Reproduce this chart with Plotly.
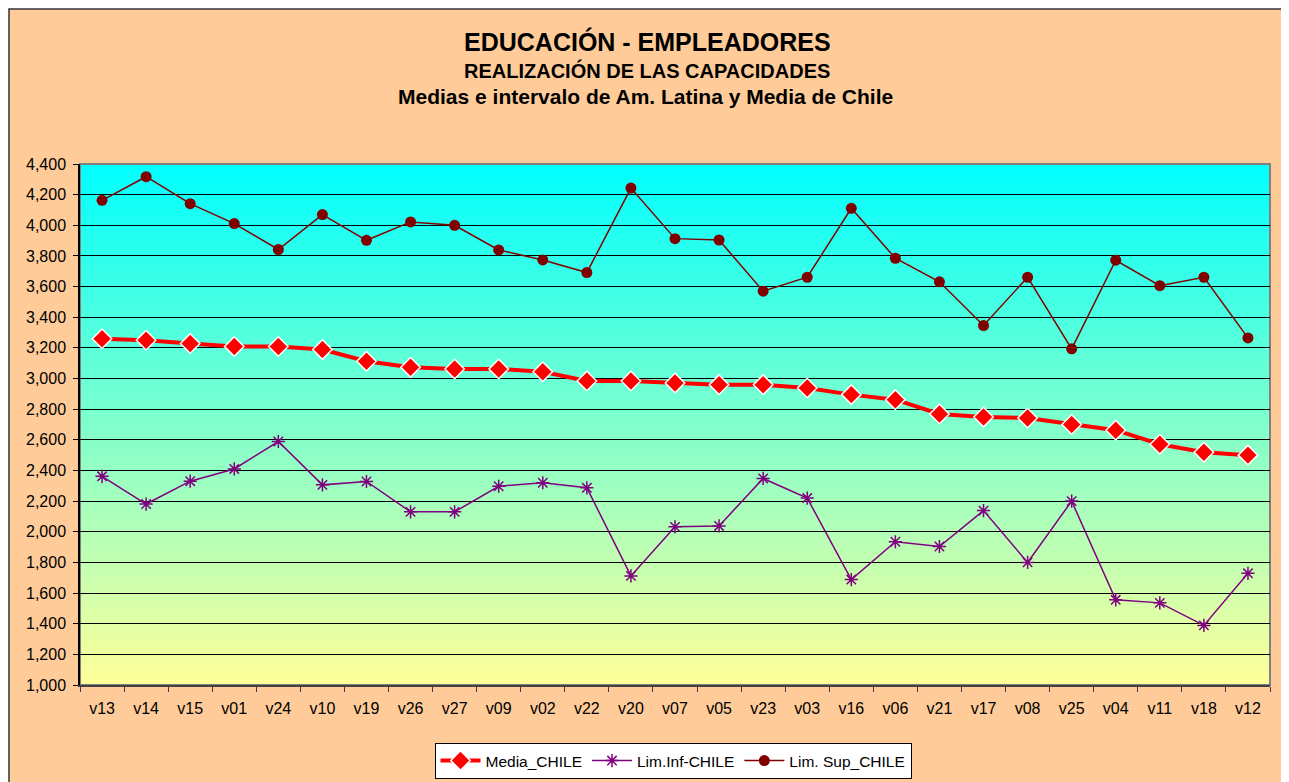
import plotly.graph_objects as go

categories = ["v13", "v14", "v15", "v01", "v24", "v10", "v19", "v26", "v27", "v09",
              "v02", "v22", "v20", "v07", "v05", "v23", "v03", "v16", "v06", "v21",
              "v17", "v08", "v25", "v04", "v11", "v18", "v12"]

media_chile = [3.260, 3.250, 3.229, 3.209, 3.209, 3.189, 3.113, 3.073, 3.062, 3.062,
               3.044, 2.984, 2.984, 2.971, 2.960, 2.960, 2.938, 2.895, 2.862, 2.769,
               2.749, 2.742, 2.700, 2.663, 2.571, 2.519, 2.500]

lim_inf_chile = [2.362, 2.181, 2.330, 2.410, 2.589, 2.306, 2.328, 2.130, 2.130, 2.297,
                 2.320, 2.287, 1.712, 2.032, 2.038, 2.348, 2.220, 1.688, 1.935, 1.904,
                 2.138, 1.800, 2.200, 1.556, 1.536, 1.389, 1.729]

lim_sup_chile = [4.163, 4.317, 4.141, 4.011, 3.842, 4.070, 3.902, 4.022, 4.000, 3.839,
                 3.774, 3.692, 4.243, 3.913, 3.904, 3.570, 3.661, 4.111, 3.785, 3.631,
                 3.346, 3.661, 3.194, 3.772, 3.606, 3.661, 3.265]

title_lines = ["EDUCACIÓN - EMPLEADORES",
               "REALIZACIÓN DE LAS CAPACIDADES",
               "Medias e intervalo de Am. Latina y Media de Chile"]

FONT = "Liberation Sans, Arial, sans-serif"

# page body margin offset (the html page adds 8px around the figure)
OFF = 8
W, H = 1289 - OFF, 782 - OFF
PL, PR, PT, PB = 80 - OFF, 1270 - OFF, 164 - OFF, 685 - OFF  # plot area in fig px


def cx(x):
    """screen px -> container fraction (x)"""
    return (x - OFF) / W


def cy(y):
    """screen px -> container fraction (y, from bottom)"""
    return (H - (y - OFF)) / H


fig = go.Figure()

fig.add_trace(go.Scatter(
    x=categories, y=media_chile, name="Media_CHILE", mode="lines+markers",
    line=dict(color="#FF0000", width=4),
    marker=dict(symbol="diamond", size=15, color="#FF0000",
                line=dict(color="#FFFFFF", width=1.5)),
))
fig.add_trace(go.Scatter(
    x=categories, y=lim_inf_chile, name="Lim.Inf-CHILE", mode="lines+markers",
    line=dict(color="#800080", width=1.5),
    marker=dict(symbol="asterisk-open", size=11, color="#800080",
                line=dict(color="#800080", width=1.5)),
))
fig.add_trace(go.Scatter(
    x=categories, y=lim_sup_chile, name="Lim. Sup_CHILE", mode="lines+markers",
    line=dict(color="#800000", width=1.5),
    marker=dict(symbol="circle", size=11, color="#800000"),
))

PW, PH = PR - PL, PB - PT


def px_to_paper_x(x):
    return (x - OFF - PL) / PW


def px_to_paper_y(y):
    return (PB - (y - OFF)) / PH


# Outer chart box (peach) with border
shapes = [dict(type="rect", xref="paper", yref="paper",
               x0=px_to_paper_x(OFF + 1), x1=px_to_paper_x(1282),
               y0=px_to_paper_y(800), y1=px_to_paper_y(OFF + 1),
               fillcolor="#FFCC99", line=dict(color="#333333", width=1.5),
               layer="below")]

# Vertical gradient of the plot area: cyan (top) to light yellow (bottom)
N = 120
top = (0, 255, 255)
bot = (255, 255, 153)
for i in range(N):
    t = (i + 0.5) / N  # 0 bottom -> 1 top
    c = tuple(round(bot[k] + (top[k] - bot[k]) * t) for k in range(3))
    shapes.append(dict(type="rect", xref="x domain", yref="y domain",
                       x0=0, x1=1, y0=i / N, y1=(i + 1) / N + 0.002,
                       fillcolor="rgb(%d,%d,%d)" % c, line=dict(width=0),
                       layer="below"))

# plot area frame
shapes.append(dict(type="rect", xref="x domain", yref="y domain",
                   x0=0, x1=1, y0=0, y1=1, line=dict(color="#808080", width=2),
                   fillcolor="rgba(0,0,0,0)", layer="below"))

annotations = [
    dict(text="<b>%s</b>" % title_lines[0], xref="paper", yref="paper",
         x=px_to_paper_x(647), y=px_to_paper_y(41), xanchor="center", yanchor="middle",
         showarrow=False, font=dict(family=FONT, size=25, color="#000000")),
    dict(text="<b>%s</b>" % title_lines[1], xref="paper", yref="paper",
         x=px_to_paper_x(647), y=px_to_paper_y(70), xanchor="center", yanchor="middle",
         showarrow=False, font=dict(family=FONT, size=20, color="#000000")),
    dict(text="<b>%s</b>" % title_lines[2], xref="paper", yref="paper",
         x=px_to_paper_x(645), y=px_to_paper_y(97), xanchor="center", yanchor="middle",
         showarrow=False, font=dict(family=FONT, size=21, color="#000000")),
]

fig.update_layout(
    width=W, height=H,
    margin=dict(l=PL, r=W - PR, t=PT, b=H - PB, autoexpand=False),
    paper_bgcolor="#FFFFFF",
    plot_bgcolor="#FFCC99",
    separators=",.",
    font=dict(family=FONT, size=15, color="#000000"),
    shapes=shapes,
    annotations=annotations,
    showlegend=True,
    legend=dict(orientation="h", xref="container", yref="container",
                x=cx(673), xanchor="center",
                y=cy(761), yanchor="middle",
                bgcolor="#FFFFFF", bordercolor="#000000", borderwidth=1,
                font=dict(family=FONT, size=15.5, color="#000000"),
                itemwidth=40, tracegroupgap=0),
)

fig.update_xaxes(
    type="category", categoryorder="array", categoryarray=categories,
    range=[-0.5, len(categories) - 0.5],
    showgrid=False, zeroline=False,
    showline=True, linecolor="#404040", linewidth=2,
    ticks="outside", tickson="boundaries", ticklen=5, tickcolor="#404040", tickwidth=1,
    tickfont=dict(family=FONT, size=16, color="#000000"),
    ticklabelstandoff=8, automargin=False,
)
fig.update_yaxes(
    range=[1.0, 4.4], dtick=0.2, tick0=1.0, tickformat=".3f",
    showgrid=True, gridcolor="#000000", gridwidth=1,
    zeroline=False,
    showline=True, linecolor="#000000", linewidth=1.5,
    ticks="outside", ticklen=5, tickcolor="#000000", tickwidth=1,
    tickfont=dict(family=FONT, size=16, color="#000000"),
    ticklabelstandoff=4, automargin=False,
)

fig.write_html("out.html")
